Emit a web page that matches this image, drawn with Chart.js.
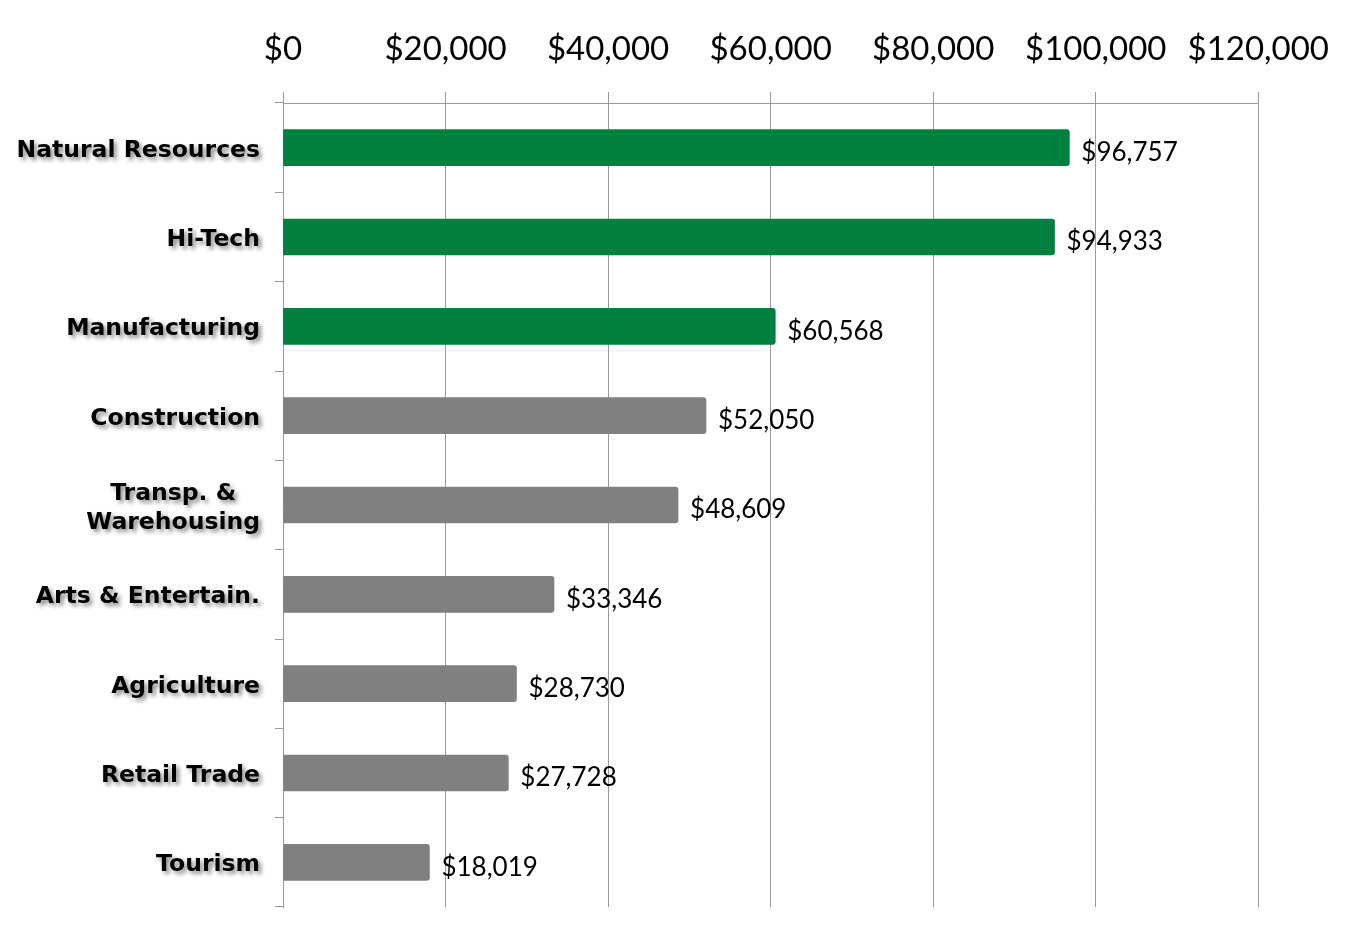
<!DOCTYPE html>
<html lang="en">
<head>
  <meta charset="UTF-8">
  <title>Average wages by sector</title>
  <script src="https://cdn.jsdelivr.net/npm/chart.js"></script>
  <style>
    html, body { margin: 0; padding: 0; background: #fff; }
    #wrap { width: 1352px; height: 931px; position: relative; }
  </style>
</head>
<body>
  <div id="wrap"><canvas id="grafico"></canvas></div>
<script>
  var setores = ['Natural Resources', 'Hi-Tech', 'Manufacturing', 'Construction',
    'Transp. &\nWarehousing', 'Arts & Entertain.', 'Agriculture', 'Retail Trade', 'Tourism'];
  var salarios = [96757, 94933, 60568, 52050, 48609, 33346, 28730, 27728, 18019];
  var cores = ['#00803f', '#00803f', '#00803f', '#808080', '#808080', '#808080', '#808080', '#808080', '#808080'];
  var eixoMin = 0;
  var eixoMax = 120000;
  var eixoPasso = 20000;

  function dinheiro(v) {
    return '$' + Number(v).toLocaleString('en-US');
  }

  // rotulos das categorias com sombra, desenhados na posicao da escala y
  var rotulosY = {
    id: 'rotulosY',
    afterDraw: function (chart) {
      var ctx = chart.ctx;
      var y = chart.scales.y;
      ctx.save();
      ctx.font = 'bold 23.5px "DejaVu Sans", Verdana, sans-serif';
      ctx.fillStyle = '#000';
      ctx.textBaseline = 'middle';
      ctx.textAlign = 'center';
      ctx.shadowColor = 'rgba(0,0,0,0.45)';
      ctx.shadowOffsetX = 3;
      ctx.shadowOffsetY = 3;
      ctx.shadowBlur = 4;
      var direita = y.right - 23;
      for (var i = 0; i < setores.length; i++) {
        var linhas = setores[i].split('\n');
        var maior = 0;
        linhas.forEach(function (l) { maior = Math.max(maior, ctx.measureText(l).width); });
        var cy = y.getPixelForValue(i) + 3;
        var cx = direita - maior / 2;
        var alt = 29;
        var inicio = cy - (linhas.length - 1) * alt / 2;
        linhas.forEach(function (l, k) { ctx.fillText(l, cx, inicio + k * alt); });
      }
      ctx.restore();
    }
  };

  // valores ao lado das barras
  var rotulosValor = {
    id: 'rotulosValor',
    afterDatasetsDraw: function (chart) {
      var ctx = chart.ctx;
      var meta = chart.getDatasetMeta(0);
      ctx.save();
      ctx.font = '26px Lato, "Open Sans", sans-serif';
      ctx.fillStyle = '#000';
      ctx.textAlign = 'left';
      ctx.textBaseline = 'middle';
      meta.data.forEach(function (barra, i) {
        ctx.fillText(dinheiro(salarios[i]), barra.x + 12, barra.y + 5);
      });
      ctx.restore();
    }
  };

  const tx = document.getElementById('grafico');

  new Chart(tx, {
    type: 'bar',
    data: {
      labels: setores,
      datasets: [{
        data: salarios,
        backgroundColor: cores,
        borderWidth: 0,
        borderRadius: 3,
        borderSkipped: 'start',
        barThickness: 36
      }]
    },
    options: {
      indexAxis: 'y',
      responsive: true,
      maintainAspectRatio: false,
      animation: false,
      layout: { padding: { left: 0, right: 91, top: 0, bottom: 24 } },
      plugins: {
        legend: { display: false },
        tooltip: { enabled: false }
      },
      scales: {
        x: {
          position: 'top',
          min: eixoMin,
          max: eixoMax,
          afterFit: function (s) { s.height = 103; },
          grid: { color: '#9a9a9a', lineWidth: 1, tickLength: 11, drawOnChartArea: true },
          border: { display: true, color: '#9a9a9a', width: 1 },
          ticks: {
            stepSize: eixoPasso,
            color: '#000',
            padding: 23,
            maxRotation: 0,
            autoSkip: false,
            font: { family: 'Lato, "Open Sans", sans-serif', size: 33 },
            callback: function (v) { return dinheiro(v); }
          }
        },
        y: {
          afterFit: function (s) { s.width = 283; },
          grid: { offset: true, drawOnChartArea: false, color: '#9a9a9a', tickLength: 8 },
          border: { display: true, color: '#9a9a9a', width: 1 },
          ticks: { display: false }
        }
      }
    },
    plugins: [rotulosY, rotulosValor]
  });
</script>
</body>
</html>
